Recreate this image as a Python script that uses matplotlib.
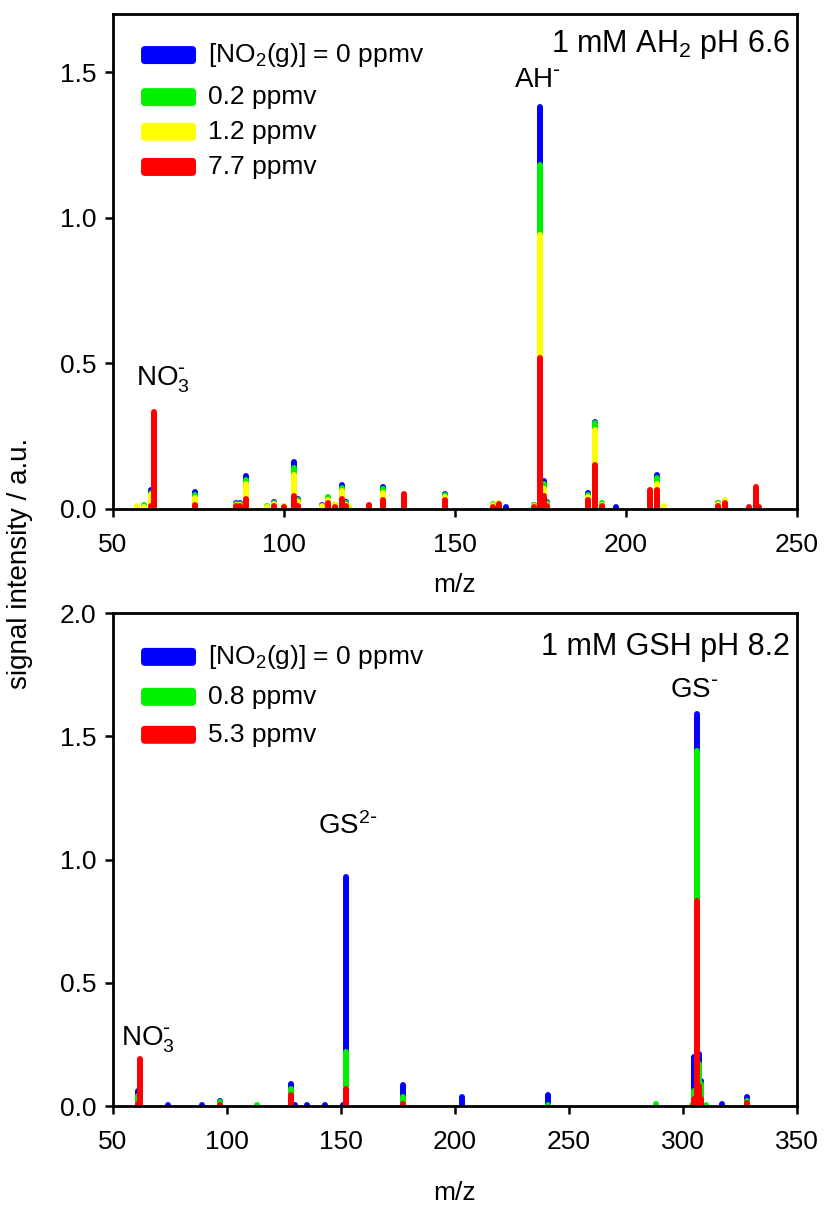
import matplotlib
matplotlib.use("Agg")
import matplotlib.pyplot as plt
from matplotlib.patches import FancyBboxPatch
import numpy as np

plt.rcParams['font.family'] = ['Liberation Sans', 'DejaVu Sans']
plt.rcParams['mathtext.default'] = 'regular'

# ---------------- data: top panel (1 mM AH2, pH 6.6) ----------------
mz_top = [57, 59, 61, 62, 74, 86, 87, 89, 95, 97, 100, 103, 104, 111, 113, 115,
          117, 118, 119, 125, 129, 135, 147, 161, 163, 165, 173, 175, 176, 177,
          189, 191, 193, 197, 207, 209, 211, 227, 229, 236, 238, 239]
top_0ppm = [0, 0, 0.065, 0.005, 0.058, 0.02, 0.02, 0.112, 0.005, 0.025, 0.008, 0.162, 0.035, 0.012, 0.03, 0.012,
            0.082, 0.025, 0, 0, 0.077, 0.03, 0.052, 0.012, 0.015, 0.006, 0.012, 1.38, 0.095, 0.025,
            0.055, 0.30, 0.015, 0.006, 0.03, 0.115, 0.005, 0.02, 0.025, 0, 0.02, 0]
top_02ppm = [0.005, 0.012, 0.055, 0.008, 0.048, 0.018, 0.018, 0.098, 0.01, 0.02, 0.01, 0.14, 0.03, 0.008, 0.042, 0.015,
             0.072, 0.02, 0.008, 0, 0.068, 0.03, 0.047, 0.016, 0.018, 0, 0.012, 1.18, 0.085, 0.02,
             0.048, 0.295, 0.02, 0, 0.03, 0.105, 0.008, 0.022, 0.028, 0, 0.02, 0]
top_12ppm = [0.01, 0.005, 0.048, 0.015, 0.038, 0.015, 0.015, 0.085, 0.005, 0.018, 0.01, 0.115, 0.025, 0.01, 0.032, 0.012,
             0.06, 0.015, 0.005, 0, 0.055, 0.03, 0.04, 0.012, 0.022, 0, 0.01, 0.94, 0.07, 0.015,
             0.04, 0.27, 0.015, 0, 0.04, 0.085, 0.01, 0.016, 0.032, 0, 0.02, 0]
top_77ppm = [0, 0, 0.01, 0.333, 0.015, 0.01, 0.01, 0.035, 0, 0.01, 0.006, 0.045, 0.01, 0, 0.022, 0.005,
             0.035, 0.01, 0, 0.015, 0.03, 0.052, 0.03, 0.008, 0.016, 0, 0.006, 0.52, 0.045, 0.01,
             0.032, 0.15, 0.01, 0, 0.065, 0.065, 0, 0.01, 0.02, 0.008, 0.075, 0.005]
top_labels = ['[NO$_2$(g)] = 0 ppmv', '0.2 ppmv', '1.2 ppmv', '7.7 ppmv']
top_colors = ['#0000ff', '#00f000', '#ffff00', '#ff0000']

# ---------------- data: bottom panel (1 mM GSH, pH 8.2) ----------------
mz_bot = [61, 62, 74, 89, 97, 113, 128, 130, 135, 143, 151, 152, 177, 203, 241, 288,
          304, 305, 306, 307, 308, 310, 317, 328]
bot_0ppm = [0.06, 0.01, 0.005, 0.005, 0.02, 0, 0.09, 0.006, 0.006, 0.005, 0.005, 0.93, 0.085, 0.035, 0.045, 0,
            0, 0.20, 1.59, 0.21, 0.10, 0, 0.008, 0.035]
bot_08ppm = [0.04, 0.01, 0, 0, 0.015, 0.006, 0.07, 0, 0, 0, 0, 0.22, 0.035, 0, 0.006, 0.008,
             0.006, 0.06, 1.44, 0.17, 0.09, 0.006, 0, 0.02]
bot_53ppm = [0.01, 0.19, 0, 0, 0.006, 0, 0.045, 0, 0, 0, 0, 0.07, 0.01, 0, 0, 0,
             0, 0.03, 0.83, 0.08, 0.03, 0, 0, 0.012]
bot_labels = ['[NO$_2$(g)] = 0 ppmv', '0.8 ppmv', '5.3 ppmv']
bot_colors = ['#0000ff', '#00f000', '#ff0000']

FS = 19

fig = plt.figure(figsize=(8.26, 12.06), dpi=100)
ax1 = fig.add_axes([0.1368, 0.578, 0.828, 0.4104])
ax2 = fig.add_axes([0.1368, 0.0829, 0.828, 0.4088])


def draw_panel(ax, mz, series, colors, labels, rows, title, title_y, xlabelpad):
    mz = np.asarray(mz, float)
    for vals, c in zip(series, colors):
        vals = np.asarray(vals, float)
        m = vals > 0
        ax.vlines(mz[m], 0, vals[m], colors=c, linewidth=4.3, capstyle='round', zorder=2)
    # legend
    bbox = ax.get_position()
    axw = bbox.width * fig.get_figwidth() * fig.dpi
    axh = bbox.height * fig.get_figheight() * fig.dpi
    pw, ph = 55 / axw, 18 / axh
    for lab, c, ry in zip(labels, colors, rows):
        p = FancyBboxPatch((0.041, ry - ph / 2), pw, ph,
                           boxstyle="round,pad=0,rounding_size=%f" % (4 / axw),
                           mutation_aspect=axw / axh,
                           transform=ax.transAxes, facecolor=c, edgecolor='none',
                           clip_on=False, zorder=5)
        ax.add_patch(p)
        ax.text(0.139, ry, lab, transform=ax.transAxes, ha='left', va='center',
                fontsize=FS)
    ax.text(0.99, title_y, title, transform=ax.transAxes, ha='right', va='center',
            fontsize=FS + 3)
    for s in ax.spines.values():
        s.set_linewidth(2.0)
    ax.tick_params(axis='both', which='major', direction='out', length=6, width=1.8,
                   labelsize=FS, top=False, right=False)
    ax.tick_params(axis='x', pad=11)
    ax.tick_params(axis='y', pad=6)
    ax.set_xlabel('m/z', fontsize=FS, labelpad=xlabelpad)


draw_panel(ax1, mz_top, [top_0ppm, top_02ppm, top_12ppm, top_77ppm], top_colors, top_labels,
           [0.917, 0.832, 0.762, 0.691], '1 mM AH$_2$ pH 6.6', 0.939, 12)
ax1.set_xlim(50, 250)
ax1.set_ylim(0, 1.7)
ax1.set_xticks([50, 100, 150, 200, 250])
ax1.set_yticks([0.0, 0.5, 1.0, 1.5])
ax1.set_yticklabels(['0.0', '0.5', '1.0', '1.5'])
ax1.text(174, 1.474, r'AH$^{\text{-}}$', ha='center', va='center', fontsize=FS + 1)
ax1.text(64.6, 0.443, r'NO$_3^{\text{-}}$', ha='center', va='center', fontsize=FS + 1)

draw_panel(ax2, mz_bot, [bot_0ppm, bot_08ppm, bot_53ppm], bot_colors, bot_labels,
           [0.911, 0.830, 0.753], '1 mM GSH pH 8.2', 0.931, 20)
ax2.set_xlim(50, 350)
ax2.set_ylim(0, 2.0)
ax2.set_xticks([50, 100, 150, 200, 250, 300, 350])
ax2.set_yticks([0.0, 0.5, 1.0, 1.5, 2.0])
ax2.set_yticklabels(['0.0', '0.5', '1.0', '1.5', '2.0'])
ax2.text(153, 1.136, r'GS$^{2\text{-}}$', ha='center', va='center', fontsize=FS + 1)
ax2.text(305, 1.688, r'GS$^{\text{-}}$', ha='center', va='center', fontsize=FS + 1)
ax2.text(65.3, 0.268, r'NO$_3^{\text{-}}$', ha='center', va='center', fontsize=FS + 1)

fig.text(0.024, 0.533, 'signal intensity / a.u.', rotation=90, ha='center', va='center',
         fontsize=FS + 1)

fig.savefig('out.png', dpi=100)
